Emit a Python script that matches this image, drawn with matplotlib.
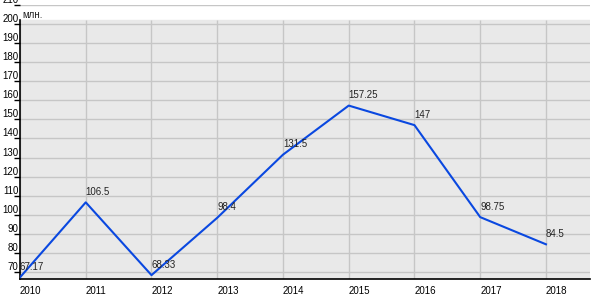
import matplotlib
matplotlib.use("Agg")
import matplotlib.pyplot as plt

years = [2010, 2011, 2012, 2013, 2014, 2015, 2016, 2017, 2018]
values = [67.17, 106.5, 68.33, 98.4, 131.5, 157.25, 147, 98.75, 84.5]
labels = ["67.17", "106.5", "68.33", "98.4", "131.5", "157.25", "147", "98.75", "84.5"]
y_ticks = list(range(70, 220, 10))
unit = "млн."

plt.rcParams["font.family"] = ["Liberation Sans", "DejaVu Sans"]

fig = plt.figure(figsize=(6, 3), dpi=100)
ax = fig.add_axes([20 / 600, 21 / 300, 570 / 600, 274 / 300])

y_min, y_max = 66.3, 210
x_min, x_max = 2010, 2018.67
gray_top = 202

ax.set_xlim(x_min, x_max)
ax.set_ylim(y_min, y_max)
ax.set_facecolor("white")
ax.axhspan(y_min, gray_top, color="#e9e9e9", zorder=0)

# grid drawn by hand: horizontal over full height, vertical only in gray zone
for y in y_ticks:
    ax.axhline(y, color="#c6c6c6", linewidth=1, zorder=1)
ax.vlines(years, y_min, gray_top, color="#c6c6c6", linewidth=1, zorder=1)

ax.plot(years, values, color="#0a48e0", linewidth=1.5, zorder=3)

for x, v, t in zip(years, values, labels):
    ax.annotate(t, (x, v), xytext=(0, 4), textcoords="offset points",
                ha="left", va="bottom", fontsize=7, color="#222222", zorder=4)

ax.text(2010.03, 205, unit, ha="left", va="center", fontsize=7, color="#222222")

for s in ["top", "right"]:
    ax.spines[s].set_visible(False)
ax.spines["left"].set_bounds(y_min, gray_top)
ax.spines["left"].set_color("black")
ax.spines["bottom"].set_color("black")
ax.spines["left"].set_linewidth(1.2)
ax.spines["bottom"].set_linewidth(1.2)

ax.set_yticks(y_ticks)
ax.set_yticklabels([str(y) for y in y_ticks])
ax.tick_params(axis="y", direction="out", length=4, width=1, pad=-3, labelsize=7)
for lab in ax.get_yticklabels():
    lab.set_verticalalignment("bottom")

ax.set_xticks(years)
ax.set_xticklabels([str(y) for y in years])
ax.tick_params(axis="x", length=0, pad=5, labelsize=7)
for lab in ax.get_xticklabels():
    lab.set_horizontalalignment("left")

plt.savefig("out.png", dpi=100)
plt.close()
